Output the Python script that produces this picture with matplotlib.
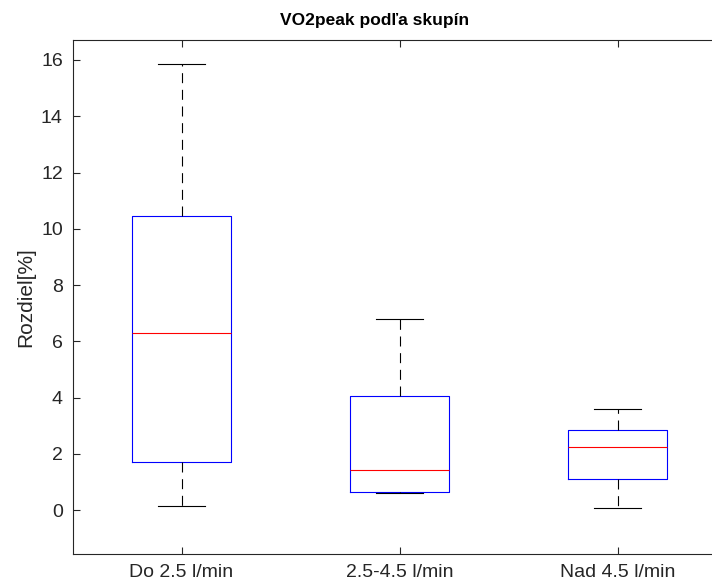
import matplotlib
matplotlib.use("Agg")
import matplotlib.pyplot as plt

# box statistics (Rozdiel [%])
groups = ["Do 2.5 l/min", "2.5-4.5 l/min", "Nad 4.5 l/min"]
whisker_lo = [0.15, 0.60, 0.07]
q1 = [1.72, 0.65, 1.10]
median = [6.30, 1.42, 2.24]
q3 = [10.45, 4.05, 2.84]
whisker_hi = [15.85, 6.80, 3.59]

yticks = [0, 2, 4, 6, 8, 10, 12, 14, 16]

plt.rcParams["font.family"] = ["Liberation Sans", "DejaVu Sans"]

fig = plt.figure(figsize=(7.12, 5.86), dpi=100)
# the reference is cropped on the right: axes end at the figure edge and
# the x range stops short of 3.5
left_px, bottom_px, top_px = 72.5, 554, 40.3
ax = fig.add_axes([left_px / 712, 1 - bottom_px / 586,
                   1 - left_px / 712, (bottom_px - top_px) / 586])

stats = []
for i, name in enumerate(groups):
    stats.append({
        "label": name,
        "whislo": whisker_lo[i],
        "q1": q1[i],
        "med": median[i],
        "q3": q3[i],
        "whishi": whisker_hi[i],
        "fliers": [],
    })

ax.bxp(stats, positions=[1, 2, 3], widths=0.45, showfliers=False,
       boxprops=dict(color="#0000ff", linewidth=0.8),
       medianprops=dict(color="#ff0000", linewidth=0.8),
       whiskerprops=dict(color="black", linewidth=0.8, linestyle=(0, (9, 6))),
       capprops=dict(color="black", linewidth=0.8),
       capwidths=0.22)

unit_px = 218.0  # one category step in pixels
ax.set_xlim(0.5, 0.5 + (712 - left_px) / unit_px)
ax.set_ylim(-1.56, 16.7)
ax.set_yticks(yticks)
ax.set_xticks([1, 2, 3])
ax.set_xticklabels(groups)

for s in ax.spines.values():
    s.set_color("#262626")
    s.set_linewidth(0.8)
ax.spines["right"].set_visible(False)
ax.tick_params(direction="in", length=5, width=0.8, colors="#262626",
               labelsize=14, top=True, right=False, pad=7)
for lbl in ax.get_xticklabels() + ax.get_yticklabels():
    lbl.set_color("#262626")

ax.set_ylabel("Rozdiel[%]", fontsize=15, color="#262626", labelpad=4)
ax.set_title("VO2peak podľa skupín", fontsize=12.5, fontweight="bold",
             color="black", pad=11, x=(375 - left_px) / (712 - left_px))

fig.savefig("out.png", dpi=100)
